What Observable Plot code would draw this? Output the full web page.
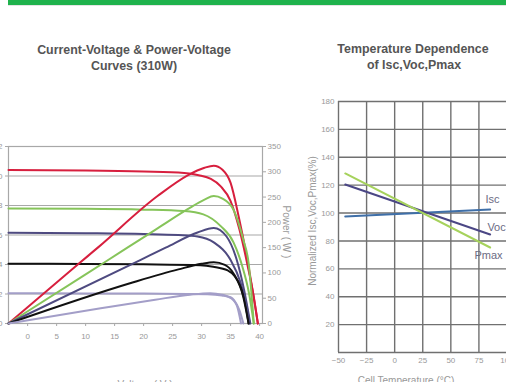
<!DOCTYPE html>
<html><head><meta charset="utf-8">
<script src="https://cdn.jsdelivr.net/npm/d3@7"></script>
<script src="https://cdn.jsdelivr.net/npm/@observablehq/plot@0.6"></script>
<style>
html,body{margin:0;padding:0;width:506px;height:382px;overflow:hidden;background:#fff;font-family:"Liberation Sans",Arial,sans-serif;}
.abs{position:absolute;white-space:nowrap;}
.title{font-weight:bold;font-size:12.4px;color:#555;transform:translateX(-50%);line-height:16px;}
.axt{font-size:10px;color:#999;}
#left,#right{position:absolute;overflow:visible;}
#left{left:0;top:130px;width:300px;height:260px;}
#right{left:290px;top:90px;width:236px;height:300px;}
#left svg,#right svg{max-width:none !important;}
</style></head><body>
<div class="abs" style="left:8px;top:0;width:498px;height:5px;background:#1fb24c"></div>
<div class="abs" style="left:8px;top:5px;width:498px;height:1px;background:#e4e4e4"></div>
<div class="abs title" style="left:134px;top:42px">Current-Voltage &amp; Power-Voltage</div>
<div class="abs title" style="left:134px;top:58px">Curves (310W)</div>
<div class="abs title" style="left:413px;top:41px">Temperature Dependence</div>
<div class="abs title" style="left:414px;top:57px">of Isc,Voc,Pmax</div>
<div id="left"></div>
<div id="right"></div>
<div class="abs axt" style="left:286px;top:232px;transform:translate(-50%,-50%) rotate(90deg)">Power ( W )</div>
<div class="abs axt" style="left:312px;top:221px;transform:translate(-50%,-50%) rotate(-90deg)">Normalized Isc,Voc,Pmax(%)</div>
<div class="abs axt" style="left:145px;top:379px;transform:translateX(-50%)">Voltage ( V )</div>
<div class="abs axt" style="left:406px;top:375px;transform:translateX(-50%)">Cell Temperature (°C)</div>
<script>
// ---- data: left chart (I-V and P-V curves) ----
const irradiance = ["1000", "800", "600", "400", "200"];
const voltTicks = [0, 5, 10, 15, 20, 25, 30, 35, 40];
const currentTicks = [0, 2, 4, 6, 8, 10, 12];
const powerTicks = [0, 50, 100, 150, 200, 250, 300, 350];

const ivRed = [[-3.3,10.4],[10,10.37],[20,10.3],[27,10.2],[29.5,10.05],[31.6,9.8],[33.3,9.3],[35,8.3],[36.5,6.4],[38,3.8],[39,1.8],[39.7,0]];
const pvRed = [[-3.3,0],[9.1,121],[12.2,151],[22.4,252],[27.6,293],[30.5,308],[32.1,312],[33.6,304],[35,278],[36.4,211],[37.9,125],[39.7,0]];
const ivGreen = [[-3.3,7.8],[10,7.78],[20,7.72],[27,7.62],[30.3,7.4],[33.3,6.6],[35.5,5.5],[37,3.9],[38.2,2.0],[39,0]];
const pvGreen = [[-3.3,0],[10,97],[17.2,150],[22.4,188],[27.6,226],[30.5,245],[32.1,252],[33.6,247],[35.5,225],[37.2,165],[38.1,120],[39,0]];
const ivSlate = [[-3.3,6.15],[10,6.12],[20,6.07],[26,6.0],[29.3,5.9],[32.1,5.5],[35,4.3],[36.7,2.8],[37.7,1.3],[38.3,0]];
const pvSlate = [[-3.3,0],[19.5,126],[23.8,150],[29.3,180],[32.1,189],[34.3,172],[36,128],[37.3,68],[38.4,0]];
const ivBlack = [[-3.3,4.05],[10,4.04],[20,4.01],[29.8,3.95],[32,3.85],[34.5,3.6],[36.7,2.5],[37.6,1.2],[38.1,0]];
const pvBlack = [[-3.3,0],[17.8,80],[26,107],[30,118],[32.1,121],[34,116],[35.5,99],[37.2,52],[38.1,0]];
const ivLav = [[-3.3,2.05],[10,2.04],[20,2.03],[31,1.98],[33.5,1.9],[35,1.78],[36.1,1.2],[36.8,0]];
const pvLav = [[-3.3,0],[12.6,30],[22,47],[28,57],[31.5,60],[33.5,57],[35.5,46],[36.5,27],[37.2,0]];

// ---- data: right chart (temperature dependence) ----
const tempTicks = [-50, -25, 0, 25, 50, 75, 100];
const pctTicks = [20, 40, 60, 80, 100, 120, 140, 160, 180];
const seriesNames = ["Isc", "Voc", "Pmax"];
const tempC = [-44, 85];
const iscPct = [97.6, 102.6];
const vocPct = [120.5, 84.6];
const pmaxPct = [128.4, 75.3];
const labelT = [87.1, 90.7, 83.5];
const labelPct = [109.7, 89.7, 69.6];

// ---- build tables ----
const ivSets = [ivRed, ivGreen, ivSlate, ivBlack, ivLav];
const pvSets = [pvRed, pvGreen, pvSlate, pvBlack, pvLav];
const iMax = 12, pMax = 350;
const ivRows = ivSets.flatMap((arr, k) => arr.map(([v, i]) => ({s: irradiance[k], v, y: i})));
const pvRows = pvSets.flatMap((arr, k) => arr.map(([v, p]) => ({s: irradiance[k], v, y: p * iMax / pMax})));
const curveColors = ["#d71f3e", "#86c45a", "#4e4a80", "#111111", "#a39ec8"];

const left = Plot.plot({
  width: 300, height: 260,
  marginTop: 16, marginBottom: 67, marginLeft: 8, marginRight: 38,
  style: {fontSize: "8px", color: "#999", fontFamily: "Liberation Sans, Arial, sans-serif", background: "transparent"},
  x: {domain: [-3.3, 40.5]},
  y: {domain: [0, iMax]},
  color: {domain: irradiance, range: curveColors},
  marks: [
    Plot.ruleY(currentTicks.filter(d => d > 0 && d < iMax), {stroke: "#a8a8a8", strokeWidth: 1.2}),
    Plot.frame({stroke: "#a8a8a8", strokeWidth: 1.2}),
    Plot.axisY(currentTicks, {anchor: "left", tickSize: 3, tickPadding: 3, label: null, stroke: "#a8a8a8"}),
    Plot.axisY(powerTicks.map(p => p * iMax / pMax), {anchor: "right", tickSize: 3, tickPadding: 2, label: null, stroke: "#a8a8a8",
      tickFormat: d => String(Math.round(d * pMax / iMax))}),
    Plot.axisX(voltTicks, {anchor: "bottom", tickSize: 3, tickPadding: 7, label: null, stroke: "#a8a8a8"}),
    Plot.line(ivRows, {x: "v", y: "y", z: "s", stroke: "s", curve: "monotone-x", strokeWidth: 2}),
    Plot.line(pvRows, {x: "v", y: "y", z: "s", stroke: "s", curve: "monotone-x", strokeWidth: 2})
  ]
});
document.getElementById("left").appendChild(left);

const tempRows = [iscPct, vocPct, pmaxPct].flatMap((vals, k) =>
  vals.map((p, j) => ({s: seriesNames[k], t: tempC[j], p})));
const labelRows = seriesNames.map((s, k) => ({s, t: labelT[k], p: labelPct[k]}));
const lineColors = ["#3f6fa8", "#4b4785", "#a6d25c"];

const right = Plot.plot({
  width: 236, height: 300,
  marginTop: 11, marginBottom: 38, marginLeft: 48, marginRight: 19.5,
  style: {fontSize: "8px", color: "#999", fontFamily: "Liberation Sans, Arial, sans-serif", background: "transparent"},
  x: {domain: [-50, 100]},
  y: {domain: [0, 180]},
  color: {domain: seriesNames, range: lineColors},
  marks: [
    Plot.ruleY(pctTicks, {stroke: "#707070", strokeWidth: 1.4}),
    Plot.ruleX(tempTicks, {stroke: "#707070", strokeWidth: 1.4}),
    Plot.ruleY([0], {stroke: "#707070", strokeWidth: 1.4}),
    Plot.axisY(pctTicks, {anchor: "left", tickSize: 0, tickPadding: 4, label: null}),
    Plot.axisX(tempTicks, {anchor: "bottom", tickSize: 0, tickPadding: 5, label: null}),
    Plot.line(tempRows, {x: "t", y: "p", z: "s", stroke: "s", strokeWidth: 2}),
    Plot.text(labelRows, {x: "t", y: "p", text: "s", fill: "#6c6c84", fontSize: 11, textAnchor: "middle"})
  ]
});
document.getElementById("right").appendChild(right);
</script>
</body></html>
